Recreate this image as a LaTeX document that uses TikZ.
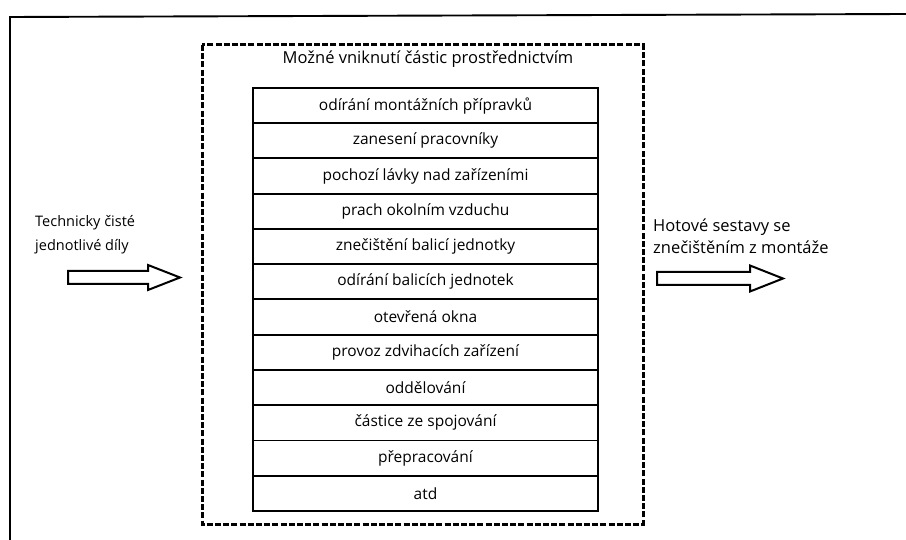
\documentclass[tikz,border=0pt]{standalone}
\usepackage{fontspec}
\setmainfont{Open Sans}
\begin{document}
\begin{tikzpicture}[x=1pt,y=-1pt,
  row/.style={draw,line width=1.9pt,minimum width=345pt,minimum height=35.25pt,
    inner sep=0pt,anchor=north,font=\fontsize{15.5}{17}\selectfont},
  sidetext/.style={align=left,anchor=west,inner sep=0pt},
  bigarrow/.style={draw,line width=2pt,fill=white,line join=miter},
  zone/.style={draw,line width=3pt,dash pattern=on 6pt off 2.2pt}]
\useasboundingbox (0,0) rectangle (906,540);

% outer frame (top and left edges)
\draw[line width=1.9pt] (10,540) -- (10,17) -- (906,14);

% dashed zone of the assembly
\draw[zone] (202,45) rectangle (643,524);
\node[font=\fontsize{16.5}{18}\selectfont] (title) at (428,59) {Možné vniknutí částic prostřednictvím};

% list of particle sources
\foreach \t [count=\k] in {odírání montážních přípravků,zanesení pracovníky,
  pochozí lávky nad zařízeními,prach okolním vzduchu,znečištění balicí jednotky,
  odírání balicích jednotek,otevřená okna,provoz zdvihacích zařízení,oddělování,
  částice ze spojování,přepracování,atd}
  \node[row] (r\k) at (425.5,{87+35.25*(\k-1)}) {\t};

% input
\node[sidetext,font=\fontsize{14.5}{24}\selectfont] (in) at (35,235) {Technicky čisté\\jednotlivé díly};
\draw[bigarrow] (68,271) -- (148,271) -- (148,265) -- (180,277.5) -- (148,290) -- (148,284) -- (68,284) -- cycle;

% output
\node[sidetext,font=\fontsize{16.5}{22}\selectfont] (out) at (653,236) {Hotové sestavy se\\znečištěním z montáže};
\draw[bigarrow] (657,272) -- (750,272) -- (750,265.5) -- (783,278.5) -- (750,291.5) -- (750,285) -- (657,285) -- cycle;
\end{tikzpicture}
\end{document}
